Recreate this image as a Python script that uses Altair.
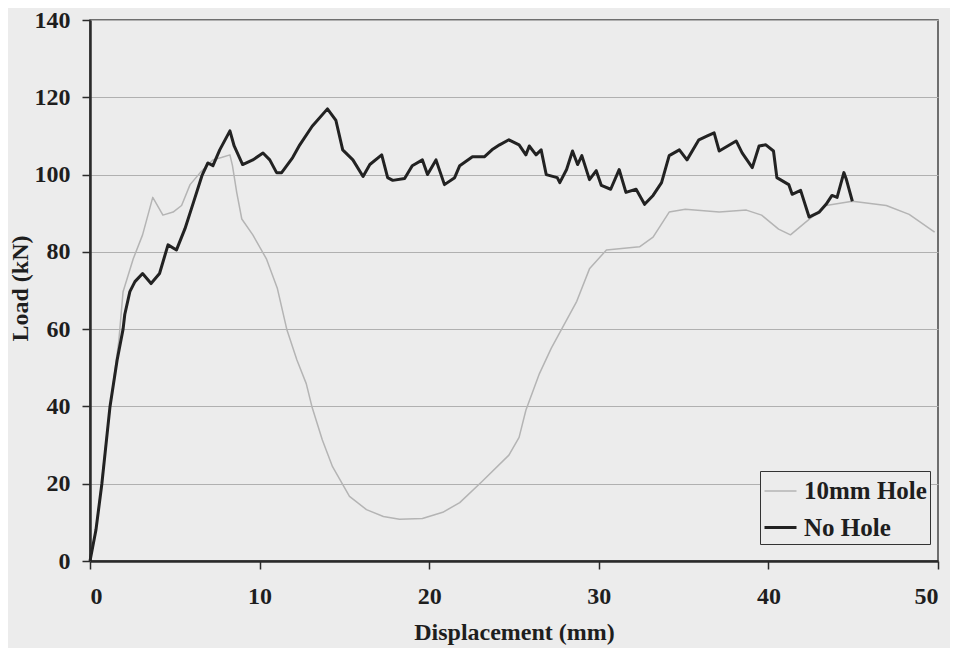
import altair as alt
import pandas as pd

# 10mm Hole series (gray)
hole_x = [0.0, 0.3, 0.6, 1.0, 1.4, 1.7, 1.95, 2.55, 3.1, 3.7, 4.3, 4.9, 5.4, 5.9, 6.5, 7.25, 7.75, 8.25,
          8.4, 8.65, 8.95, 9.6, 10.4, 11.05, 11.6, 12.2, 12.75, 13.1, 13.7, 14.3, 15.3, 16.3, 17.3, 18.25,
          19.6, 20.8, 21.8, 23.1, 24.7, 25.3, 25.7, 26.5, 27.2, 27.85, 28.7, 29.45, 30.45, 31.2, 32.4,
          33.2, 34.15, 35.1, 37.1, 38.7, 39.6, 40.6, 41.3, 42.2, 43.4, 44.95, 46.95, 48.3, 49.8]
hole_y = [0.0, 7.0, 17.0, 33.0, 47.0, 57.0, 69.7, 78.2, 84.4, 94.1, 89.5, 90.3, 92.0, 97.4, 100.5, 103.8,
          104.4, 105.1, 102.3, 95.4, 88.5, 84.4, 78.2, 70.5, 60.0, 52.0, 45.9, 39.7, 31.3, 24.4, 16.7, 13.3,
          11.5, 10.8, 11.0, 12.6, 15.1, 20.5, 27.4, 32.0, 39.0, 48.5, 55.1, 60.3, 67.2, 75.6, 80.5, 80.8,
          81.3, 83.8, 90.3, 91.0, 90.3, 90.8, 89.5, 85.9, 84.4, 87.7, 92.0, 93.1, 92.0, 89.7, 85.1]

# No Hole series (black)
nohole_x = [0.0, 0.35, 0.7, 1.18, 1.6, 1.95, 2.05, 2.35, 2.65, 3.1, 3.6, 4.1, 4.6, 5.1, 5.6, 6.1, 6.6,
            6.95, 7.25, 7.65, 8.25, 8.5, 9.0, 9.6, 10.2, 10.6, 11.0, 11.3, 11.95, 12.37, 13.1, 14.0, 14.5,
            14.9, 15.5, 16.1, 16.5, 17.2, 17.55, 17.85, 18.55, 19.0, 19.6, 19.9, 20.4, 20.9, 21.5, 21.8,
            22.55, 23.25, 23.7, 24.15, 24.7, 25.3, 25.7, 25.9, 26.3, 26.6, 26.9, 27.55, 27.7, 28.1, 28.45,
            28.75, 29.0, 29.45, 29.85, 30.15, 30.7, 31.2, 31.6, 32.2, 32.7, 33.2, 33.7, 34.15, 34.75, 35.2,
            35.9, 36.4, 36.8, 37.1, 38.1, 38.45, 39.05, 39.45, 39.85, 40.3, 40.5, 41.2, 41.4, 41.9, 42.4,
            43.0, 43.4, 43.75, 44.05, 44.45, 44.6, 44.95]
nohole_y = [0.0, 8.0, 20.0, 40.0, 52.0, 60.0, 63.8, 69.7, 72.3, 74.4, 71.8, 74.4, 81.8, 80.5, 86.0, 92.8,
            99.7, 103.0, 102.3, 106.4, 111.3, 107.4, 102.6, 103.8, 105.6, 103.8, 100.5, 100.5, 104.4, 107.7,
            112.5, 117.0, 114.0, 106.4, 103.8, 99.5, 102.6, 105.1, 99.2, 98.5, 99.0, 102.3, 103.8, 100.0,
            103.8, 97.4, 99.2, 102.3, 104.6, 104.6, 106.4, 107.7, 109.0, 107.7, 105.1, 107.4, 105.1, 106.4,
            100.0, 99.2, 97.9, 101.3, 106.1, 102.6, 104.9, 98.7, 101.0, 97.2, 96.2, 101.3, 95.4, 96.2, 92.3,
            94.6, 97.9, 104.9, 106.4, 103.8, 109.0, 110.0, 110.8, 106.1, 108.7, 105.6, 101.8, 107.4, 107.7,
            106.1, 99.2, 97.4, 94.9, 95.9, 89.0, 90.3, 92.3, 94.6, 94.1, 100.5, 98.7, 93.1]

series_names = ["10mm Hole", "No Hole"]
x_ticks = [0, 10, 20, 30, 40, 50]
y_ticks = [0, 20, 40, 60, 80, 100, 120, 140]

rows = []
for i, (x, y) in enumerate(zip(hole_x, hole_y)):
    rows.append({"disp": x, "load": y, "series": series_names[0], "i": i})
for i, (x, y) in enumerate(zip(nohole_x, nohole_y)):
    rows.append({"disp": x, "load": y, "series": series_names[1], "i": i})
df = pd.DataFrame(rows)

FONT = "Liberation Serif"
TXT = "#1e1e1e"

chart = alt.Chart(df).mark_line(strokeJoin="round").encode(
    x=alt.X("disp:Q", scale=alt.Scale(domain=[0, 50], nice=False),
            axis=alt.Axis(values=x_ticks, title="Displacement (mm)", grid=False,
                          titleY=71, titleBaseline="middle")),
    y=alt.Y("load:Q", scale=alt.Scale(domain=[0, 140], nice=False),
            axis=alt.Axis(values=y_ticks, title="Load (kN)", grid=True,
                          titleX=-70, titleY=268, titleAngle=-90,
                          titleBaseline="middle", titleAlign="center")),
    color=alt.Color("series:N", scale=alt.Scale(domain=series_names, range=["#b4b4b4", "#222222"]),
                    legend=alt.Legend(title=None, orient="none", legendX=670, legendY=451,
                                      symbolType="stroke", symbolSize=1024, padding=3,
                                      rowPadding=6, strokeColor="#333333", fillColor="#ececec",
                                      labelFont=FONT, labelFontSize=25, labelFontWeight="bold",
                                      labelColor=TXT, symbolStrokeWidth=2.5, labelOffset=6)),
    strokeWidth=alt.StrokeWidth("series:N", scale=alt.Scale(domain=series_names, range=[1.5, 3]),
                                legend=None),
    order="i:Q",
).properties(
    width=848, height=541,
    autosize=alt.AutoSizeParams(type="none"),
    padding={"left": 82, "top": 12, "right": 12, "bottom": 87},
    background="#ececec",
).configure_view(
    stroke="#444444", strokeWidth=1.5
).configure_axis(
    labelFont=FONT, labelFontSize=24, labelFontWeight="bold", labelColor=TXT,
    titleFont=FONT, titleFontSize=24, titleFontWeight="bold", titleColor=TXT,
    domainColor="#2a2a2a", domainWidth=2.5, tickColor="#2a2a2a", tickWidth=1.5, tickSize=8,
    gridColor="#b0b0b0", gridWidth=1,
).configure_axisX(
    labelPadding=15
).configure_axisY(
    labelPadding=12
)

chart.save("out.html", embed_options={"renderer": "svg", "actions": False})
